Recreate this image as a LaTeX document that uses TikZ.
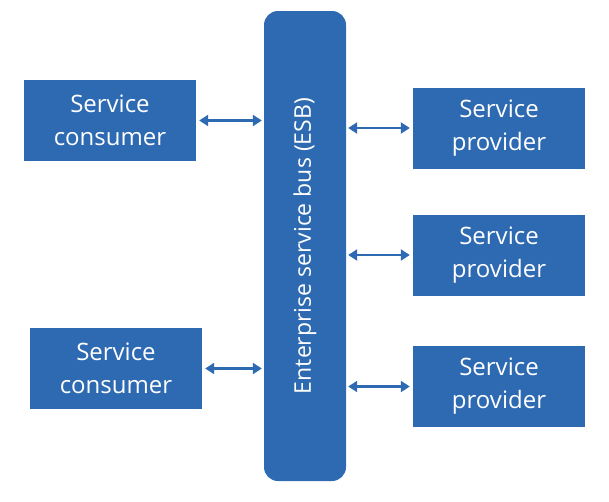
\documentclass[tikz,border=0pt]{standalone}
\usepackage{fontspec}
\setmainfont{Open Sans}
\usetikzlibrary{arrows.meta}
\definecolor{bus}{RGB}{46,106,178}
\tikzset{svcbox/.style={fill=bus,text=white,align=center,inner sep=0pt,
                        minimum width=172pt,minimum height=81pt},
         busbox/.style={fill=bus,text=white,rounded corners=14pt,inner sep=0pt,
                        minimum width=82pt,minimum height=470pt},
         link/.style={draw=bus,line width=2.8pt,shorten <=3pt,shorten >=2pt,
                      {Triangle[length=9pt,width=11pt]}-{Triangle[length=9pt,width=11pt]}}}

\begin{document}
\begin{tikzpicture}[x=1pt,y=-1pt,font=\fontsize{24}{33}\selectfont]
  \useasboundingbox (0,0) rectangle (609,501);
  \node[busbox] (esb) at (305,246) {};
  \node[rotate=90,text=white,font=\fontsize{23}{33}\selectfont] at (esb.center) {Enterprise service bus (ESB)};
  % consumers on the left
  \node[svcbox] (con1) at (110,120.5) {Service\\consumer};
  \node[svcbox] (con2) at (116,368.5) {Service\\consumer};
  % providers on the right
  \node[svcbox] (pro1) at (499,128) {Service\\provider};
  \node[svcbox] (pro2) at (499,255) {Service\\provider};
  \node[svcbox] (pro3) at (499,386.5) {Service\\provider};
  \draw[link] (con1.east) -- (con1.east -| esb.west);
  \draw[link] (con2.east) -- (con2.east -| esb.west);
  \draw[link] (pro1.west) -- (pro1.west -| esb.east);
  \draw[link] (pro2.west) -- (pro2.west -| esb.east);
  \draw[link] (pro3.west) -- (pro3.west -| esb.east);
\end{tikzpicture}
\end{document}
